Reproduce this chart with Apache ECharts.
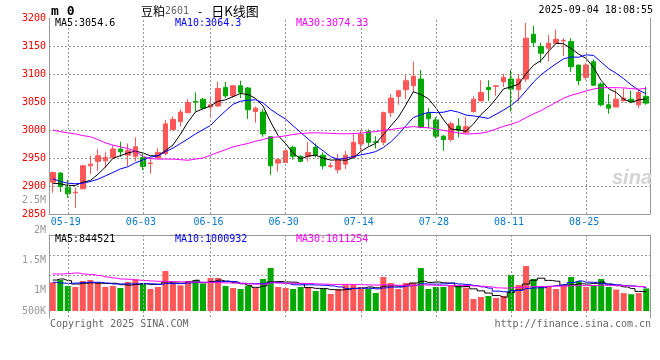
<!DOCTYPE html>
<html><head><meta charset="utf-8">
<script src="https://cdn.jsdelivr.net/npm/echarts@6/dist/echarts.min.js"></script>
<style>html,body{margin:0;padding:0;background:#fff}#c{width:660px;height:360px}</style>
</head><body><div id="c"></div>
<script>
// ---------- data ----------
const dates = ['05-15','05-16','05-19','05-20','05-21','05-22','05-23','05-26','05-27','05-28','05-29','05-30',
 '06-03','06-04','06-05','06-06','06-09','06-10','06-11','06-12','06-13','06-16','06-17','06-18','06-19','06-20','06-23','06-24','06-25','06-26','06-27','06-30',
 '07-01','07-02','07-03','07-04','07-07','07-08','07-09','07-10','07-11','07-14','07-15','07-16','07-17','07-18','07-21','07-22','07-23','07-24','07-25','07-28','07-29','07-30','07-31',
 '08-01','08-04','08-05','08-06','08-07','08-08','08-11','08-12','08-13','08-14','08-15','08-18','08-19','08-20','08-21','08-22','08-25','08-26','08-27','08-28','08-29',
 '09-01','09-02','09-03','09-04'];
const tickDates = ['05-19','06-03','06-16','06-30','07-14','07-28','08-11','08-25'];

const opens  = [2907,2923,2897,2888,2895,2936,2944,2945,2951,2966, 2955,2953,2951,2940,2950,2958,3001,3015,3031,3051,
                3055,3041,3043,3076,3061,3079,3075,3033,3032,2988, 2941,2942,2969,2953,2953,2969,2955,2935,2929,2939,
                2951,2975,2997,2979,2978,3031,3060,3072,3079,3091, 3030,3018,2989,2983,3007,2995,3033,3052,3076,3078,
                3086,3091,3072,3091,3171,3149,3146,3155,3159,3158, 3116,3094,3122,3082,3045,3041,3052,3055,3045,3060];
const closes = [2924,2899,2886,2889,2936,2939,2954,2951,2966,2961, 2963,2970,2935,2941,2960,3011,3019,3032,3049,3050,
                3039,3045,3074,3061,3079,3067,3036,3039,2993,2936, 2947,2963,2953,2944,2960,2955,2936,2936,2947,2955,
                2978,2992,2978,2978,3031,3057,3070,3088,3096,3005, 3020,2989,2983,3011,2999,3006,3055,3067,3072,3079,
                3094,3073,3091,3164,3156,3137,3155,3162,3160,3113, 3088,3116,3080,3045,3039,3055,3057,3051,3067,3048];
const lows   = [2888,2889,2879,2861,2895,2921,2927,2932,2949,2952, 2935,2944,2928,2922,2948,2955,2999,3006,3030,3033,
                3037,3021,3041,3057,3058,3057,3020,3013,2988,2920, 2926,2941,2947,2942,2944,2951,2930,2932,2923,2930,
                2951,2963,2972,2967,2973,3023,3045,3055,3067,3003, 3003,2985,2963,2979,2987,2994,3031,3051,3052,3061,
                3077,3033,3051,3086,3148,3120,3122,3154,3132,3104, 3080,3089,3079,3042,3029,3041,3051,3048,3039,3045];
const highs  = [2926,2925,2911,2897,2938,2954,2966,2960,2972,2979, 2976,2987,2958,2950,2967,3018,3024,3037,3055,3067,
                3057,3060,3086,3086,3080,3088,3077,3042,3037,2989, 2950,2963,2972,2955,2978,2976,2960,2942,2957,2963,
                2994,3000,3001,2989,3033,3064,3072,3098,3122,3107, 3039,3023,2991,3015,3021,3023,3060,3089,3089,3080,
                3100,3107,3100,3191,3186,3156,3170,3179,3164,3164, 3116,3120,3126,3085,3064,3074,3074,3070,3072,3077];
const volumes = [1131000,1194000,1028000,1000000,1167000,1194000,1131000,1000000,1028000,972000,
                 1139000,1214000,1092000,944000,1000000,1444000,1092000,1047000,1167000,1194000,
                 1092000,1250000,1250000,1028000,972000,944000,1036000,972000,1222000,1528000,
                 1000000,972000,944000,1000000,1000000,889000,944000,806000,944000,1056000,
                 1056000,1000000,944000,833000,1278000,1111000,944000,1111000,1111000,1528000,
                 944000,1000000,1000000,1056000,1036000,981000,667000,722000,750000,694000,
                 750000,1333000,1056000,1583000,1222000,1028000,1028000,944000,1028000,1278000,
                 1167000,1000000,1028000,1222000,1000000,930000,830000,800000,830000,960000];

// moving-average values before enough bars exist
const ma5Lead  = [2905,2904,2901,2901];
const ma10Lead = [2913,2908,2905,2904,2905,2908,2912,2918,2924];
const ma30Lead = [3000,2997,2995,2993,2990,2988,2983,2977,2973,2970,2967,2962,2953,2949,2948,2948,2948,2947,2946,2948,
                  2950,2955,2960,2965,2970,2973,2976,2980,2983];
const volMa5Lead  = [1194000,1222000,1175000,1083000];
const volMa10Lead = [1131000,1110000,1100000,1110000,1125000,1131000,1131000,1110000,1083000];
const volMa30Lead = [1361000,1361000,1375000,1389000,1361000,1347000,1319000,1278000,1250000,1222000,
                     1214000,1194000,1181000,1167000,1158000,1153000,1150000,1145000,1140000,1135000,
                     1131000,1125000,1120000,1115000,1110000,1103000,1090000,1080000,1080000];

const priceLegend = ['MA5:3054.6','MA10:3064.3','MA30:3074.33'];
const volLegend   = ['MA5:844521','MA10:1000932','MA30:1011254'];
const volTickLabels = ['', '500K', '1M', '1.5M', '2M', '2.5M'];

// ---------- helpers ----------
function movingAvg(vals, n, lead) {
  return vals.map((v, i) => {
    if (i < n - 1) return lead[i];
    let s = 0; for (let k = i - n + 1; k <= i; k++) s += vals[k];
    return +(s / n).toFixed(2);
  });
}
const FONT = 'DejaVu Sans Mono';
const RED = '#ff5757', GREEN = '#00a800', AXIS = '#999999', GRID = '#999999', CLEAR = 'rgba(255,255,255,0)';
const DASH = [2, 2];
const isTick = (i) => tickDates.indexOf(dates[i]) >= 0;
const vLines = {
  silent: true, animation: false, symbol: ['none', 'none'], label: { show: false },
  lineStyle: { color: GRID, type: DASH, width: 1 }, emphasis: { disabled: true },
  data: tickDates.map((d) => ({ xAxis: d }))
};

const kdata = dates.map((d, i) => [opens[i], closes[i], lows[i], highs[i]]);
const volData = volumes.map((v, i) => ({ value: v, itemStyle: { color: closes[i] >= opens[i] ? RED : GREEN } }));

const txt = (text, left, top, color, extra) => Object.assign({
  text, left, top, padding: 0,
  textStyle: { fontFamily: FONT, fontSize: 10, fontWeight: 'normal', color, lineHeight: 12 }
}, extra || {});

const CJK = { fontFamily: 'Noto Sans CJK SC', fontSize: 12, fontWeight: 'normal', color: '#000', lineHeight: 14 };

const chart = echarts.init(document.getElementById('c'), null, { renderer: 'canvas' });
chart.setOption({
  animation: false,
  backgroundColor: '#fff',
  grid: [
    { left: 49, right: 10, top: 18, height: 196 },
    { left: 49, right: 10, top: 235, height: 76 },
    { left: 49, right: 10, top: 235, height: 83 },
    { left: 49, right: 10, top: 200, height: 150 }
  ],
  xAxis: [
    { type: 'category', gridIndex: 0, data: dates, boundaryGap: true,
      axisLine: { lineStyle: { color: AXIS } }, axisTick: { show: false },
      axisLabel: { interval: (i) => isTick(i), margin: 3, formatter: (v) => '{a|' + v + '}',
        rich: { a: { color: '#0a7ad0', fontFamily: FONT, fontSize: 10, padding: [0, 4, 0, 0] } } },
      splitLine: { show: false } },
    { type: 'category', gridIndex: 1, data: dates, boundaryGap: true, show: false },
    { type: 'category', gridIndex: 2, data: dates, boundaryGap: true,
      axisLine: { lineStyle: { color: AXIS } }, axisTick: { show: false }, axisLabel: { show: false },
      splitLine: { show: false } },
    { type: 'category', gridIndex: 3, data: dates, show: false }
  ],
  yAxis: [
    { type: 'value', gridIndex: 0, min: 2850, max: 3200, interval: 50, position: 'left',
      axisLine: { show: true, lineStyle: { color: AXIS } }, axisTick: { show: false },
      axisLabel: { color: '#ff0000', fontFamily: FONT, fontSize: 10, margin: 3, padding: [0, 0, 4, 0],
        formatter: (v) => String(v) },
      splitLine: { show: true, lineStyle: { color: [CLEAR, GRID, GRID, GRID, GRID, GRID, GRID, CLEAR], type: DASH, width: 1 } } },
    { type: 'value', gridIndex: 0, min: 0, max: 1, position: 'right',
      axisLine: { show: true, lineStyle: { color: AXIS } }, axisTick: { show: false },
      axisLabel: { show: false }, splitLine: { show: false } },
    { type: 'value', gridIndex: 1, min: 333333, max: 2444444, show: false, splitLine: { show: false } },
    { type: 'value', gridIndex: 2, min: 0, max: 83, interval: 20, inverse: true, position: 'left',
      axisLine: { show: true, lineStyle: { color: AXIS } }, axisTick: { show: false }, axisLabel: { show: false },
      splitLine: { show: true, lineStyle: { color: [CLEAR, GRID, GRID, CLEAR, CLEAR, CLEAR], type: DASH, width: 1 } } },
    { type: 'value', gridIndex: 2, min: 0, max: 1, position: 'right',
      axisLine: { show: true, lineStyle: { color: AXIS } }, axisTick: { show: false },
      axisLabel: { show: false }, splitLine: { show: false } },
    { type: 'value', gridIndex: 3, min: 0, max: 2500000, interval: 500000, position: 'left',
      axisLine: { show: false }, axisTick: { show: false }, splitLine: { show: false },
      axisLabel: { margin: 3, formatter: (v) => {
          const s = volTickLabels[Math.round(v / 500000)] || '';
          return s === '500K' ? '{lo|' + s + '}' : '{n|' + s + '}';
        },
        rich: { n: { color: '#999', fontFamily: FONT, fontSize: 10 },
                lo: { color: '#999', fontFamily: FONT, fontSize: 10, padding: [0, 0, 18, 0] } } } }
  ],
  title: [
    txt('m 0', 51, 5, '#000', { textStyle: { fontFamily: FONT, fontSize: 13, fontWeight: 'bold', color: '#000', lineHeight: 14 } }),
    { text: '{c|豆粕}{n|2601}{d|-}{e|日K线图}', left: 141, top: 4, padding: 0,
      textStyle: { fontWeight: 'normal', rich: {
        c: CJK,
        n: { fontFamily: FONT, fontSize: 10, fontWeight: 'normal', color: '#666', lineHeight: 14 },
        d: Object.assign({}, CJK, { padding: [0, 9, 0, 9] }),
        e: Object.assign({}, CJK, { fontSize: 13 }) } } },
    txt('2025-09-04 18:08:55', null, 4, '#000', { right: 7 }),
    txt(priceLegend[0], 55, 17, '#000'),
    txt(priceLegend[1], 175, 17, '#0000ff'),
    txt(priceLegend[2], 296, 17, '#ff00ff'),
    txt(volLegend[0], 55, 233, '#000'),
    txt(volLegend[1], 175, 233, '#0000ff'),
    txt(volLegend[2], 296, 233, '#ff00ff'),
    txt('Copyright 2025 SINA.COM', 50, 318, '#666'),
    txt('http://finance.sina.com.cn', null, 318, '#666', { right: 9 }),
    { text: 'sina', right: 8, top: 168, padding: 0,
      textStyle: { fontFamily: 'Liberation Sans', fontStyle: 'italic', fontWeight: 'bold', fontSize: 20, color: '#d4d4d4' } }
  ],
  series: [
    { type: 'candlestick', xAxisIndex: 0, yAxisIndex: 0, data: kdata, barWidth: 5,
      itemStyle: { color: RED, color0: GREEN, borderColor: RED, borderColor0: GREEN, borderWidth: 1 },
      markLine: vLines },
    { type: 'line', xAxisIndex: 0, yAxisIndex: 0, data: movingAvg(closes, 5, ma5Lead), symbol: 'none',
      lineStyle: { color: '#000', width: 1 } },
    { type: 'line', xAxisIndex: 0, yAxisIndex: 0, data: movingAvg(closes, 10, ma10Lead), symbol: 'none',
      lineStyle: { color: '#0000ff', width: 1 } },
    { type: 'line', xAxisIndex: 0, yAxisIndex: 0, data: movingAvg(closes, 30, ma30Lead), symbol: 'none',
      lineStyle: { color: '#ff00ff', width: 1 } },
    { type: 'bar', xAxisIndex: 2, yAxisIndex: 3, data: [], markLine: vLines, silent: true },
    { type: 'bar', xAxisIndex: 1, yAxisIndex: 2, data: volData, barWidth: 6 },
    { type: 'line', xAxisIndex: 1, yAxisIndex: 2, data: movingAvg(volumes, 5, volMa5Lead), symbol: 'none', step: 'middle',
      lineStyle: { color: '#000', width: 1 } },
    { type: 'line', xAxisIndex: 1, yAxisIndex: 2, data: movingAvg(volumes, 10, volMa10Lead), symbol: 'none', step: 'middle',
      lineStyle: { color: '#0000ff', width: 1 } },
    { type: 'line', xAxisIndex: 1, yAxisIndex: 2, data: movingAvg(volumes, 30, volMa30Lead), symbol: 'none', step: 'middle',
      lineStyle: { color: '#ff00ff', width: 1 } }
  ]
});
</script></body></html>
